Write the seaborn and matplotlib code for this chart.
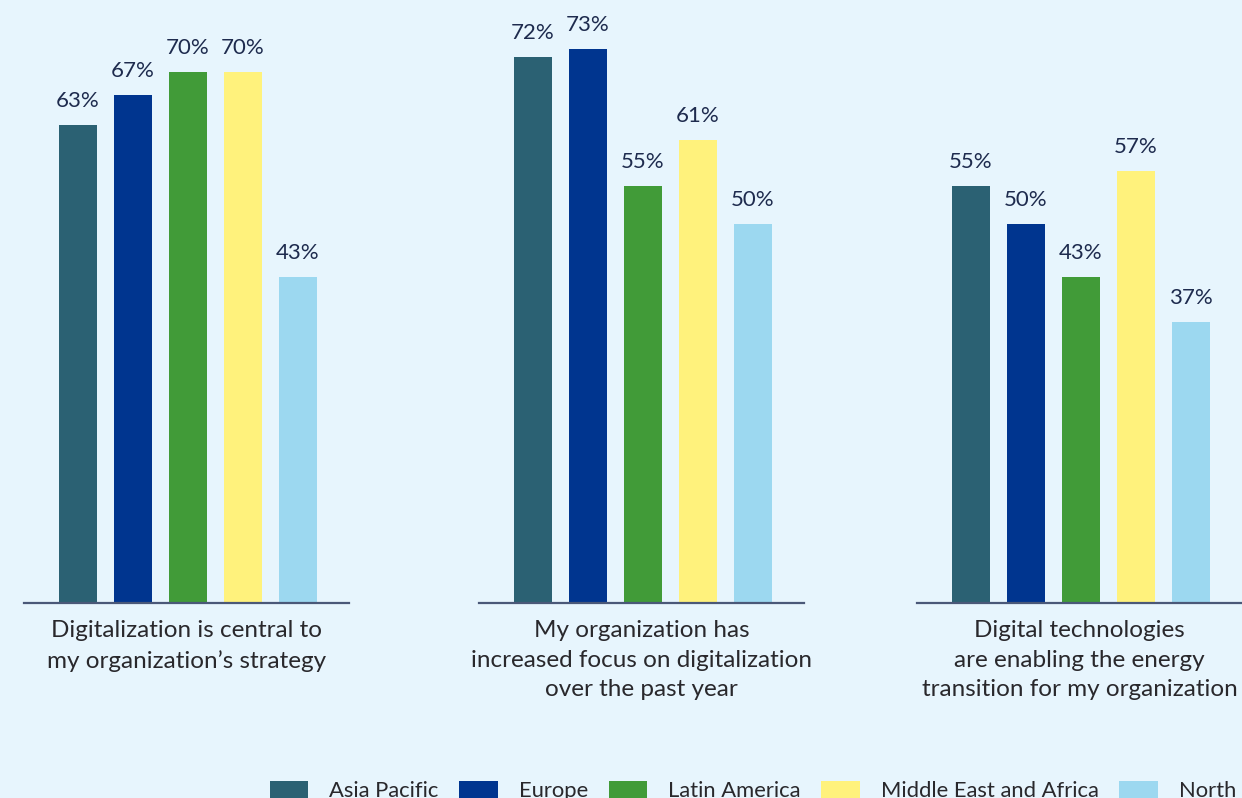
import matplotlib
matplotlib.use("Agg")
import matplotlib.pyplot as plt
import seaborn as sns
import pandas as pd
from matplotlib.patches import Patch

# Survey shares by region for three statements on digitalization
regions = ["Asia Pacific", "Europe", "Latin America",
           "Middle East and Africa", "North America"]
statements = [
    "Digitalization is central to\nmy organization’s strategy",
    "My organization has\nincreased focus on digitalization\nover the past year",
    "Digital technologies\nare enabling the energy\ntransition for my organization",
]
central_to_strategy = [63, 67, 70, 70, 43]
increased_focus = [72, 73, 55, 61, 50]
enabling_transition = [55, 50, 43, 57, 37]
region_colors = ["#2B6173", "#00358F", "#419B38", "#FFF27C", "#9CD8F0"]

BG = "#E7F5FD"
VALUE_COLOR = "#1E2B4E"
TEXT_COLOR = "#29282C"
BASE_COLOR = "#4A5878"

sns.set_theme(style="white")
plt.rcParams["font.family"] = ["Lato", "DejaVu Sans"]

df = pd.DataFrame({
    "statement": [s for s in statements for _ in regions],
    "region": regions * 3,
    "share": central_to_strategy + increased_focus + enabling_transition,
})

W, H = 1242, 798
fig = plt.figure(figsize=(W / 100, H / 100), dpi=100, facecolor=BG)

# panel left edges in pixels; each panel is 325 px wide, baseline at y=603 px
lefts_px = [24, 479, 917]
panel_w = 325
base_y = 603

for left, stmt in zip(lefts_px, statements):
    ax = fig.add_axes([left / W, (H - base_y) / H, panel_w / W, base_y / H])
    ax.set_facecolor(BG)
    sub = df[df["statement"] == stmt]
    sns.barplot(data=sub, x="region", y="share", hue="region",
                hue_order=regions, order=regions, palette=region_colors,
                saturation=1, width=0.69, legend=False, linewidth=0,
                edgecolor="none", ax=ax)
    ax.set_xlim(-0.982, 4.927)
    ax.set_ylim(0, 79.5)
    for c in ax.containers:
        ax.bar_label(c, labels=[f"{v:.0f}%" for v in c.datavalues],
                     padding=10, fontsize=16, color=VALUE_COLOR)
    for s in ["top", "left", "right"]:
        ax.spines[s].set_visible(False)
    ax.spines["bottom"].set_color(BASE_COLOR)
    ax.spines["bottom"].set_linewidth(1.6)
    ax.set_xticks([])
    ax.set_yticks([])
    ax.set_xlabel("")
    ax.set_ylabel("")
    ax.annotate(stmt, xy=(0.5, 0), xycoords="axes fraction",
                xytext=(0, -12.5), textcoords="offset points",
                ha="center", va="top", multialignment="center",
                fontsize=17.5, color=TEXT_COLOR, linespacing=1.5,
                annotation_clip=False)

handles = [Patch(facecolor=c, edgecolor="none") for c in region_colors]
fig.legend(handles, regions, loc="upper left",
           bbox_to_anchor=(270 / W, (H - 781) / H), ncol=5,
           frameon=False, fontsize=15.8, borderpad=0, borderaxespad=0,
           handlelength=1.75, handleheight=0.8, handletextpad=0.95,
           columnspacing=0.95, labelcolor=TEXT_COLOR)

fig.savefig("out.png", dpi=100, facecolor=BG)
